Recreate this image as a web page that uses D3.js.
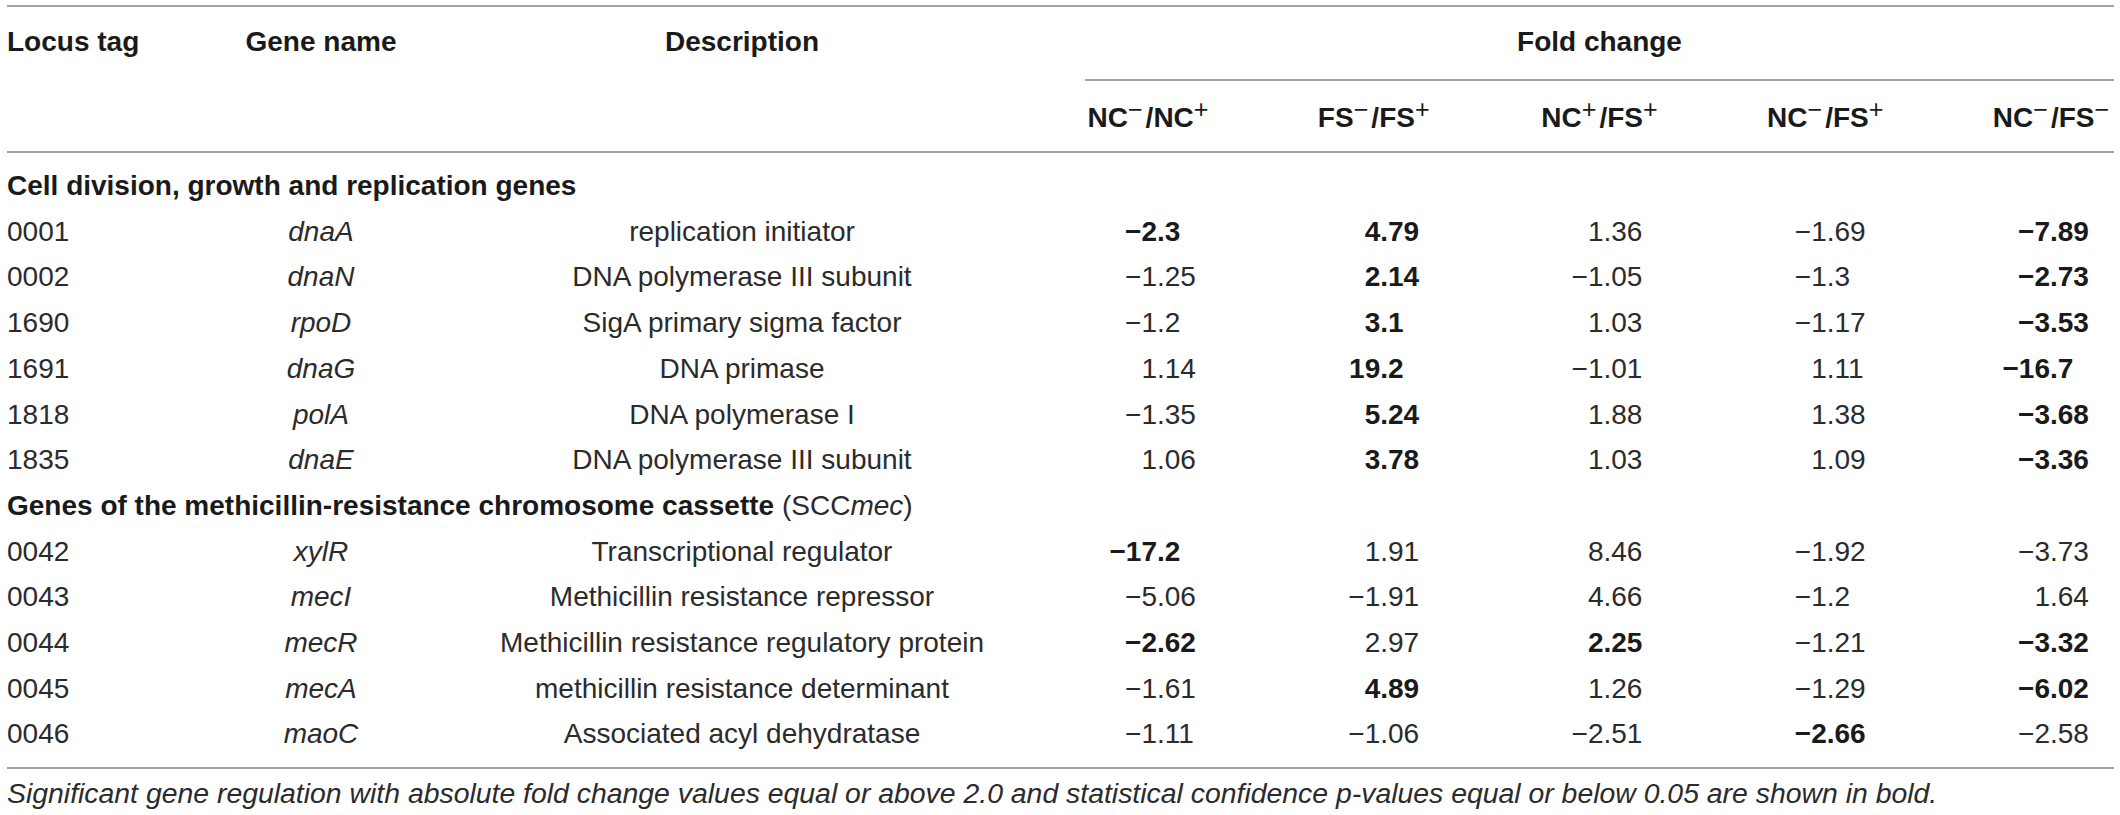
<!DOCTYPE html>
<html>
<head>
<meta charset="utf-8">
<script src="https://cdn.jsdelivr.net/npm/d3@7"></script>
<style>
  body { margin: 0; background: #fff; }
  svg { display: block; }
  text { font-family: "Liberation Sans", Arial, Helvetica, sans-serif; }
</style>
</head>
<body>
<svg id="chart" width="2120" height="815"></svg>
<script>
// ---------------- data ----------------
const columnHeaders = ["Locus tag", "Gene name", "Description", "Fold change"];
const seriesHeaders = ["NC−/NC+", "FS−/FS+", "NC+/FS+", "NC−/FS+", "NC−/FS−"];

const sectionTitles = [
  "Cell division, growth and replication genes",
  "Genes of the methicillin-resistance chromosome cassette"
];
const sectionSizes = [6, 5];

const locusTags = ["0001", "0002", "1690", "1691", "1818", "1835", "0042", "0043", "0044", "0045", "0046"];
const geneNames = ["dnaA", "dnaN", "rpoD", "dnaG", "polA", "dnaE", "xylR", "mecI", "mecR", "mecA", "maoC"];
const descriptions = [
  "replication initiator",
  "DNA polymerase III subunit",
  "SigA primary sigma factor",
  "DNA primase",
  "DNA polymerase I",
  "DNA polymerase III subunit",
  "Transcriptional regulator",
  "Methicillin resistance repressor",
  "Methicillin resistance regulatory protein",
  "methicillin resistance determinant",
  "Associated acyl dehydratase"
];

const ncMinusNcPlus  = [-2.3, -1.25, -1.2, 1.14, -1.35, 1.06, -17.2, -5.06, -2.62, -1.61, -1.11];
const fsMinusFsPlus  = [4.79, 2.14, 3.1, 19.2, 5.24, 3.78, 1.91, -1.91, 2.97, 4.89, -1.06];
const ncPlusFsPlus   = [1.36, -1.05, 1.03, -1.01, 1.88, 1.03, 8.46, 4.66, 2.25, 1.26, -2.51];
const ncMinusFsPlus  = [-1.69, -1.3, -1.17, 1.11, 1.38, 1.09, -1.92, -1.2, -1.21, -1.29, -2.66];
const ncMinusFsMinus = [-7.89, -2.73, -3.53, -16.7, -3.68, -3.36, -3.73, 1.64, -3.32, -6.02, -2.58];

// significance (bold) flags
const sigNcMinusNcPlus  = [1,0,0,0,0,0,1,0,1,0,0];
const sigFsMinusFsPlus  = [1,1,1,1,1,1,0,0,0,1,0];
const sigNcPlusFsPlus   = [0,0,0,0,0,0,0,0,1,0,0];
const sigNcMinusFsPlus  = [0,0,0,0,0,0,0,0,0,0,1];
const sigNcMinusFsMinus = [1,1,1,1,1,1,0,0,1,1,0];

const footnote = "Significant gene regulation with absolute fold change values equal or above 2.0 and statistical confidence p-values equal or below 0.05 are shown in bold.";

// ---------------- build ----------------
const series = [ncMinusNcPlus, fsMinusFsPlus, ncPlusFsPlus, ncMinusFsPlus, ncMinusFsMinus];
const sigs = [sigNcMinusNcPlus, sigFsMinusFsPlus, sigNcPlusFsPlus, sigNcMinusFsPlus, sigNcMinusFsMinus];

const FS = 28;
const TEXT = "#2b2b2b";
const BOLD = "#1a1a1a";
const LINE = "#a3a3a3";

const svg = d3.select("#chart");

// rows: section header + genes
const rows = [];
let g = 0;
sectionSizes.forEach((n, s) => {
  rows.push({ type: "section", s });
  for (let i = 0; i < n; i++) rows.push({ type: "gene", i: g++ });
});

const y = d3.scalePoint().domain(d3.range(rows.length)).range([195, 743.4]);
const xVal = d3.scalePoint().domain(d3.range(seriesHeaders.length)).range([1157, 2050]);
const xHead = d3.scalePoint().domain(d3.range(seriesHeaders.length)).range([1148, 2051]);

const xLocus = 7, xGene = 321, xDesc = 742, tableL = 7, tableR = 2114;
const foldL = 1085;

// horizontal rules
const rules = [
  { x1: tableL, x2: tableR, y: 6 },
  { x1: foldL, x2: tableR, y: 80 },
  { x1: tableL, x2: tableR, y: 152 },
  { x1: tableL, x2: tableR, y: 768 }
];
svg.selectAll("line.rule").data(rules).join("line")
  .attr("class", "rule")
  .attr("x1", d => d.x1).attr("x2", d => d.x2)
  .attr("y1", d => d.y).attr("y2", d => d.y)
  .attr("stroke", LINE).attr("stroke-width", 2);

// top header row
const headPos = [
  { x: xLocus, anchor: "start" },
  { x: xGene, anchor: "middle" },
  { x: xDesc, anchor: "middle" },
  { x: (foldL + tableR) / 2, anchor: "middle" }
];
svg.selectAll("text.head").data(columnHeaders).join("text")
  .attr("class", "head")
  .attr("x", (d, i) => headPos[i].x)
  .attr("y", 51)
  .attr("text-anchor", (d, i) => headPos[i].anchor)
  .attr("font-size", FS).attr("font-weight", "bold").attr("fill", BOLD)
  .text(d => d);

// sub headers with superscripts
const sub = svg.selectAll("text.sub").data(seriesHeaders).join("text")
  .attr("class", "sub")
  .attr("x", (d, i) => xHead(i))
  .attr("y", 127)
  .attr("text-anchor", "middle")
  .attr("font-size", FS).attr("font-weight", "bold").attr("fill", BOLD);
sub.each(function (d) {
  const m = d.match(/([A-Z]+)([−+])\/([A-Z]+)([−+])/);
  const t = d3.select(this);
  t.append("tspan").text(m[1]);
  t.append("tspan").attr("dy", -9).attr("font-size", FS * 0.9).attr("font-weight", "normal").text(m[2]);
  t.append("tspan").attr("dy", 9).attr("dx", 3).text("/" + m[3]);
  t.append("tspan").attr("dy", -9).attr("font-size", FS * 0.9).attr("font-weight", "normal").text(m[4]);
});

// section headers
svg.selectAll("text.section").data(rows.filter(r => r.type === "section")).join("text")
  .attr("class", "section")
  .attr("x", xLocus)
  .attr("y", (d) => y(rows.indexOf(d)))
  .attr("font-size", FS).attr("fill", BOLD)
  .each(function (d) {
    const t = d3.select(this);
    t.append("tspan").attr("font-weight", "bold").text(sectionTitles[d.s]);
    if (d.s === 1) {
      t.append("tspan").attr("fill", TEXT).text(" (SCC");
      t.append("tspan").attr("fill", TEXT).attr("font-style", "italic").text("mec");
      t.append("tspan").attr("fill", TEXT).text(")");
    }
  });

const geneRows = rows.map((r, k) => ({ ...r, k })).filter(r => r.type === "gene");

svg.selectAll("text.locus").data(geneRows).join("text")
  .attr("class", "locus")
  .attr("x", xLocus).attr("y", d => y(d.k))
  .attr("font-size", FS).attr("fill", TEXT)
  .text(d => locusTags[d.i]);

svg.selectAll("text.gene").data(geneRows).join("text")
  .attr("class", "gene")
  .attr("x", xGene).attr("y", d => y(d.k))
  .attr("text-anchor", "middle").attr("font-style", "italic")
  .attr("font-size", FS).attr("fill", TEXT)
  .text(d => geneNames[d.i]);

svg.selectAll("text.desc").data(geneRows).join("text")
  .attr("class", "desc")
  .attr("x", xDesc).attr("y", d => y(d.k))
  .attr("text-anchor", "middle")
  .attr("font-size", FS).attr("fill", TEXT)
  .text(d => descriptions[d.i]);

// decimal-aligned values
const measurer = svg.append("text").attr("visibility", "hidden").attr("font-size", FS);
function intWidth(str, bold) {
  measurer.attr("font-weight", bold ? "bold" : "normal").text(str);
  return measurer.node().getComputedTextLength();
}
const fmt = v => String(v).replace("-", "−");

const cells = [];
geneRows.forEach(r => {
  series.forEach((s, c) => {
    cells.push({ k: r.k, c, v: s[r.i], bold: !!sigs[c][r.i] });
  });
});
svg.selectAll("text.val").data(cells).join("text")
  .attr("class", "val")
  .attr("y", d => y(d.k))
  .attr("font-size", FS)
  .attr("font-weight", d => d.bold ? "bold" : "normal")
  .attr("fill", d => d.bold ? BOLD : TEXT)
  .text(d => fmt(d.v))
  .attr("x", d => xVal(d.c) - intWidth(fmt(d.v).split(".")[0], d.bold));
measurer.remove();

// footnote
svg.append("text")
  .attr("x", xLocus).attr("y", 803)
  .attr("font-size", 28.4).attr("font-style", "italic").attr("fill", TEXT)
  .text(footnote);
</script>
</body>
</html>
